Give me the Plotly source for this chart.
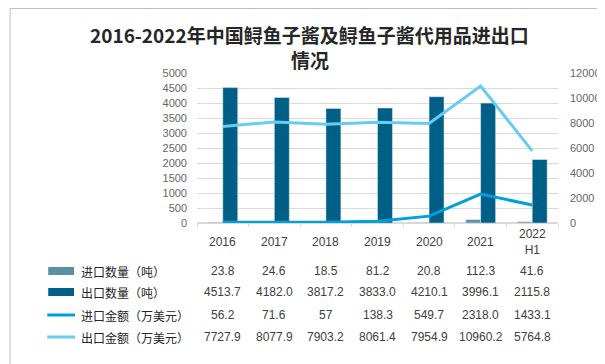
import plotly.graph_objects as go

categories = ["2016", "2017", "2018", "2019", "2020", "2021", "2022H1"]
year_labels = ["2016", "2017", "2018", "2019", "2020", "2021", "2022<br>H1"]
import_qty = ["23.8", "24.6", "18.5", "81.2", "20.8", "112.3", "41.6"]
export_qty = ["4513.7", "4182.0", "3817.2", "3833.0", "4210.1", "3996.1", "2115.8"]
import_val = ["56.2", "71.6", "57", "138.3", "549.7", "2318.0", "1433.1"]
export_val = ["7727.9", "8077.9", "7903.2", "8061.4", "7954.9", "10960.2", "5764.8"]
series_names = ["进口数量（吨）", "出口数量（吨）", "进口金额（万美元）", "出口金额（万美元）"]
title_lines = ["2016-2022年中国鲟鱼子酱及鲟鱼子酱代用品进出口", "情况"]
colors = ["#5B8FA6", "#005F86", "#00A0DC", "#66CCF4"]

W, H = 605, 364
L, R, T, B = 189, 553, 65, 215


def px(x):
    return (x - L) / (R - L)


def py(y):
    return (B - y) / (B - T)


fig = go.Figure()
fig.add_trace(go.Bar(x=categories, y=[float(v) for v in import_qty], name=series_names[0],
                     marker_color=colors[0], yaxis="y"))
fig.add_trace(go.Bar(x=categories, y=[float(v) for v in export_qty], name=series_names[1],
                     marker_color=colors[1], yaxis="y"))
fig.add_trace(go.Scatter(x=categories, y=[float(v) for v in import_val], name=series_names[2],
                         mode="lines", line=dict(color=colors[2], width=3), yaxis="y2"))
fig.add_trace(go.Scatter(x=categories, y=[float(v) for v in export_val], name=series_names[3],
                         mode="lines", line=dict(color=colors[3], width=3), yaxis="y2"))

annotations = []
shapes = []
txt_font = dict(family="Liberation Sans, Noto Sans CJK SC, sans-serif", size=12, color="#404040")
# title
for ln, ty in zip(title_lines, [27, 51]):
    annotations.append(dict(x=px(302.5), xref="paper", y=py(ty), yref="paper",
                            text="<b>" + ln + "</b>",
                            showarrow=False, xanchor="center", yanchor="middle",
                            font=dict(family="Noto Sans CJK SC, sans-serif", size=19, color="#262626")))
# header row
for i, lab in enumerate(year_labels):
    annotations.append(dict(x=i, xref="x", y=py(234), yref="paper", text=lab, showarrow=False,
                            font=txt_font, xanchor="center", yanchor="middle"))
rows = [import_qty, export_qty, import_val, export_val]
row_y = [263, 284, 307, 329]
for r, (vals, ry) in enumerate(zip(rows, row_y)):
    for i, v in enumerate(vals):
        annotations.append(dict(x=i, xref="x", y=py(ry), yref="paper", text=v, showarrow=False,
                                font=txt_font, xanchor="center", yanchor="middle"))
    annotations.append(dict(x=px(70), xref="paper", y=py(ry), yref="paper", text=series_names[r],
                            showarrow=False, xanchor="left", yanchor="middle",
                            font=dict(family="Noto Sans CJK SC, sans-serif", size=12, color="#262626")))
    if r < 2:
        shapes.append(dict(type="rect", xref="paper", yref="paper", x0=px(39), x1=px(65),
                           y0=py(ry - 4), y1=py(ry + 4), fillcolor=colors[r], line=dict(width=0)))
    else:
        shapes.append(dict(type="line", xref="paper", yref="paper", x0=px(38), x1=px(66),
                           y0=py(ry), y1=py(ry), line=dict(color=colors[r], width=3)))

# outer border
shapes.append(dict(type="rect", xref="paper", yref="paper", x0=px(0.5), x1=px(604), y0=py(0.5),
                   y1=py(363), line=dict(color="#BFBFBF", width=1), fillcolor="rgba(0,0,0,0)",
                   layer="below"))

fig.update_layout(
    width=W, height=H,
    margin=dict(l=L, r=W - R, t=T, b=H - B),
    paper_bgcolor="white", plot_bgcolor="white",
    barmode="group", bargap=0.42, bargroupgap=0,
    showlegend=False,
    xaxis=dict(type="category", range=[-0.5, len(categories) - 0.5], showticklabels=False,
               showgrid=False, showline=True, linecolor="#D9D9D9", ticks="outside",
               tickson="boundaries", ticklen=3, tickcolor="#D9D9D9"),
    yaxis=dict(range=[0, 5000], dtick=500, tickformat="d", showgrid=True, gridcolor="#D9D9D9",
               gridwidth=1, zeroline=True, zerolinecolor="#D9D9D9", ticks="",
               ticklabelstandoff=9,
               tickfont=dict(family="Liberation Sans, sans-serif", size=11, color="#666666")),
    yaxis2=dict(range=[0, 12000], dtick=2000, tickformat="d", overlaying="y", side="right",
                showgrid=False, zeroline=False, ticks="", ticklabelstandoff=11,
                tickfont=dict(family="Liberation Sans, sans-serif", size=11, color="#666666")),
    annotations=annotations,
    shapes=shapes,
)

fig.write_html("out.html")
